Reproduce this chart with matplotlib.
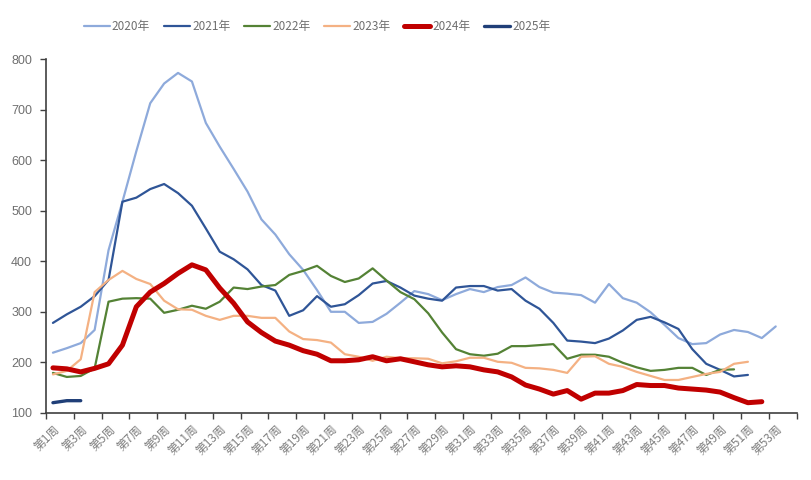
import matplotlib.pyplot as plt
import numpy as np

plt.rcParams['font.family'] = ['Noto Sans CJK SC', 'DejaVu Sans']

# weekly values
weeks = np.arange(1, 55)
v2020 = [219, 228, 238, 264, 422, 518, 618, 713, 752, 773, 756, 674, 627, 583, 538, 483,
         453, 414, 383, 343, 300, 300, 278, 280, 296, 318, 341, 335, 323, 335, 345, 339,
         349, 353, 368, 349, 338, 336, 333, 318, 355, 327, 318, 299, 274, 248, 236, 238,
         255, 264, 260, 248, 271]
v2021 = [278, 295, 310, 331, 363, 518, 526, 543, 553, 535, 510, 465, 419, 404, 384, 353,
         342, 292, 303, 331, 310, 315, 333, 356, 361, 348, 332, 326, 322, 348, 351, 351,
         342, 345, 322, 306, 278, 243, 241, 238, 247, 263, 284, 290, 279, 266, 226, 197,
         185, 172, 175]
v2022 = [179, 171, 173, 188, 320, 326, 327, 326, 298, 304, 312, 306, 320, 348, 345, 350,
         353, 373, 381, 391, 371, 359, 366, 386, 362, 339, 325, 297, 259, 226, 216, 213,
         217, 232, 232, 234, 236, 207, 215, 215, 211, 199, 190, 183, 185, 189, 189, 175,
         185, 186]
v2023 = [176, 183, 206, 339, 363, 381, 365, 355, 322, 305, 304, 292, 284, 292, 292, 288,
         288, 261, 246, 244, 239, 216, 211, 203, 211, 208, 208, 207, 198, 202, 209, 209,
         201, 199, 189, 188, 185, 179, 211, 212, 197, 191, 181, 173, 165, 165, 171, 177,
         181, 197, 201]
v2024 = [189, 187, 181, 188, 197, 234, 310, 339, 356, 376, 393, 383, 347, 317, 280, 259,
         242, 234, 223, 216, 203, 203, 205, 211, 203, 207, 201, 195, 191, 193, 191, 185,
         181, 171, 155, 147, 137, 144, 127, 139, 139, 144, 156, 154, 154, 149, 147, 145,
         141, 130, 120, 122]
v2025 = [120, 124, 124]

series = [
    ('2020年', v2020, '#8eaadb', 1.6),
    ('2021年', v2021, '#2f5597', 1.6),
    ('2022年', v2022, '#548235', 1.6),
    ('2023年', v2023, '#f4b183', 1.6),
    ('2024年', v2024, '#c00000', 3.6),
    ('2025年', v2025, '#203f78', 2.4),
]

fig = plt.figure(figsize=(8.11, 4.8), dpi=100)
ax = fig.add_axes([0.0567, 0.14, 0.9255, 0.7365])

for name, vals, color, lw in series:
    ax.plot(weeks[:len(vals)], vals, color=color, lw=lw, label=name,
            solid_joinstyle='round', solid_capstyle='round')

ax.set_xlim(0.5, 54.5)
ax.set_ylim(100, 800)
ax.set_yticks(range(100, 801, 100))

# category axis: tick marks at boundaries, labels every other week
ax.set_xticks(np.arange(0.5, 55, 2))
ax.set_xticklabels([])
ax.set_xticks(np.arange(1, 54, 2), minor=True)
ax.set_xticklabels(['第%d周' % w for w in range(1, 54, 2)], minor=True,
                   rotation=45, ha='right', va='top', rotation_mode='anchor',
                   fontsize=8.5, color='#7f7f7f')
ax.tick_params(axis='x', which='minor', length=0, pad=7)
ax.tick_params(axis='x', which='major', length=4, width=1, color='#404040', direction='out')
ax.tick_params(axis='y', length=4, width=1, color='#404040', direction='out',
               labelsize=9, labelcolor='#6f6f6f', pad=6)
for lab in ax.get_yticklabels():
    lab.set_family(['Liberation Sans', 'DejaVu Sans'])

for s in ['top', 'right']:
    ax.spines[s].set_visible(False)
for s in ['left', 'bottom']:
    ax.spines[s].set_color('#404040')
    ax.spines[s].set_linewidth(1.2)

leg = fig.legend(loc='upper left', bbox_to_anchor=(0.09, 0.98), ncol=6, frameon=False,
                 fontsize=8.5, handlelength=2.2, columnspacing=1.15, handletextpad=0.2)
for t in leg.get_texts():
    t.set_color('#6f6f6f')

fig.savefig('out.png', dpi=100)
